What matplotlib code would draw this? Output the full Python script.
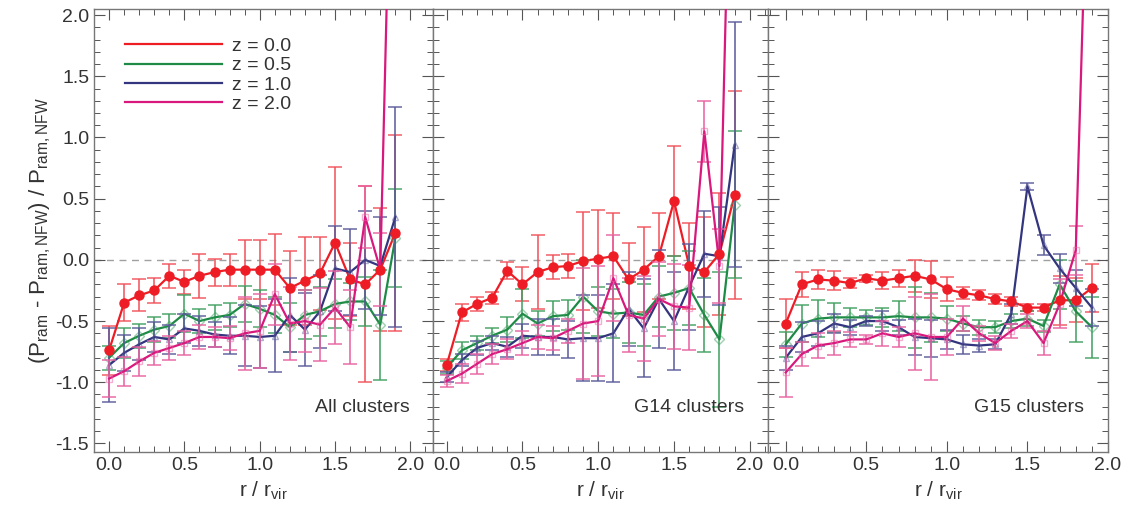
import numpy as np
import matplotlib
matplotlib.use("Agg")
import matplotlib.pyplot as plt
from matplotlib.ticker import MultipleLocator, FormatStrFormatter

plt.rcParams['font.family'] = ['Liberation Sans', 'DejaVu Sans']
plt.rcParams['mathtext.fontset'] = 'custom'
plt.rcParams['mathtext.rm'] = 'Liberation Sans'
plt.rcParams['mathtext.it'] = 'Liberation Sans:italic'

# radial bins r / r_vir
r = np.round(np.arange(20) * 0.1, 1)

labels = ["z = 0.0", "z = 0.5", "z = 1.0", "z = 2.0"]
panel_names = ["All clusters", "G14 clusters", "G15 clusters"]

#-------------------All clusters-------------------#
all_z00 = [-0.74, -0.35, -0.29, -0.25, -0.13, -0.18, -0.13, -0.10, -0.08, -0.08,
           -0.08, -0.08, -0.23, -0.17, -0.11, 0.14, -0.16, -0.20, -0.08, 0.22]
all_z05 = [-0.80, -0.68, -0.62, -0.57, -0.54, -0.44, -0.50, -0.47, -0.45, -0.36,
           -0.40, -0.45, -0.55, -0.45, -0.42, -0.36, -0.34, -0.34, -0.53, 0.18]
all_z10 = [-0.86, -0.76, -0.69, -0.63, -0.65, -0.56, -0.58, -0.61, -0.62, -0.62,
           -0.63, -0.62, -0.45, -0.57, -0.42, -0.07, -0.10, 0.00, -0.05, 0.35]
all_z20 = [-0.97, -0.91, -0.83, -0.76, -0.72, -0.68, -0.63, -0.63, -0.64, -0.60,
           -0.58, -0.28, -0.52, -0.50, -0.53, -0.39, -0.55, 0.35, -0.08, 5.0]
all_e00 = [0.20, 0.15, 0.13, 0.10, 0.10, 0.10, 0.18, 0.11, 0.13, 0.24,
           0.24, 0.29, 0.30, 0.36, 0.30, 0.62, 0.30, 0.80, 0.50, 0.80]
all_e05 = [0.10, 0.12, 0.10, 0.10, 0.10, 0.15, 0.10, 0.10, 0.10, 0.15,
           0.15, 0.15, 0.20, 0.20, 0.20, 0.20, 0.15, 0.20, 0.45, 0.40]
all_e10 = [0.30, 0.15, 0.13, 0.12, 0.12, 0.12, 0.12, 0.10, 0.15, 0.25,
           0.25, 0.30, 0.30, 0.30, 0.30, 0.35, 0.35, 0.40, 0.40, 0.90]
all_e20 = [0.15, 0.12, 0.12, 0.10, 0.10, 0.10, 0.10, 0.08, 0.10, 0.30,
           0.30, 0.25, 0.30, 0.25, 0.30, 0.30, 0.30, 0.25, 0.30, 0.30]

#-------------------G14 clusters-------------------#
g14_z00 = [-0.86, -0.43, -0.36, -0.31, -0.09, -0.20, -0.10, -0.06, -0.05, -0.01,
           0.01, 0.03, -0.16, -0.08, 0.03, 0.48, -0.05, -0.10, 0.05, 0.53]
g14_z05 = [-0.88, -0.74, -0.68, -0.62, -0.57, -0.44, -0.52, -0.46, -0.45, -0.30,
           -0.42, -0.44, -0.43, -0.45, -0.30, -0.27, -0.23, -0.45, -0.65, 0.45]
g14_z10 = [-0.96, -0.82, -0.72, -0.68, -0.71, -0.62, -0.63, -0.63, -0.65, -0.64,
           -0.64, -0.60, -0.40, -0.56, -0.32, -0.50, -0.22, 0.05, 0.03, 0.94]
g14_z20 = [-0.99, -0.93, -0.85, -0.77, -0.73, -0.68, -0.63, -0.64, -0.58, -0.52,
           -0.50, -0.15, -0.45, -0.48, -0.32, -0.38, -0.39, 1.05, -0.05, 5.0]
g14_e00 = [0.05, 0.07, 0.06, 0.05, 0.07, 0.14, 0.30, 0.10, 0.10, 0.40,
           0.40, 0.35, 0.30, 0.35, 0.35, 0.45, 0.35, 0.45, 0.50, 0.85]
g14_e05 = [0.05, 0.07, 0.06, 0.06, 0.10, 0.20, 0.10, 0.12, 0.12, 0.30,
           0.20, 0.20, 0.25, 0.25, 0.25, 0.30, 0.30, 0.30, 0.55, 0.60]
g14_e10 = [0.04, 0.05, 0.06, 0.06, 0.08, 0.10, 0.15, 0.15, 0.15, 0.35,
           0.35, 0.40, 0.30, 0.40, 0.40, 0.40, 0.35, 0.35, 0.40, 1.00]
g14_e20 = [0.05, 0.08, 0.08, 0.08, 0.08, 0.10, 0.10, 0.10, 0.10, 0.45,
           0.45, 0.35, 0.30, 0.35, 0.30, 0.35, 0.35, 0.25, 0.30, 0.50]

#-------------------G15 clusters-------------------#
g15_z00 = [-0.52, -0.20, -0.16, -0.17, -0.19, -0.15, -0.17, -0.15, -0.13, -0.16,
           -0.24, -0.27, -0.29, -0.32, -0.34, -0.39, -0.39, -0.33, -0.33, -0.23]
g15_z05 = [-0.69, -0.52, -0.48, -0.47, -0.47, -0.47, -0.47, -0.46, -0.47, -0.47,
           -0.48, -0.52, -0.55, -0.55, -0.50, -0.48, -0.54, -0.20, -0.42, -0.55]
g15_z10 = [-0.80, -0.63, -0.60, -0.52, -0.55, -0.50, -0.50, -0.55, -0.63, -0.64,
           -0.65, -0.69, -0.70, -0.69, -0.44, 0.60, 0.12, -0.07, -0.23, -0.39]
g15_z20 = [-0.92, -0.77, -0.70, -0.68, -0.65, -0.65, -0.60, -0.63, -0.60, -0.63,
           -0.63, -0.48, -0.60, -0.68, -0.58, -0.50, -0.68, -0.36, 0.08, 4.5]
g15_e00 = [0.20, 0.10, 0.08, 0.08, 0.04, 0.03, 0.07, 0.07, 0.13, 0.15,
           0.10, 0.05, 0.04, 0.04, 0.04, 0.03, 0.03, 0.20, 0.18, 0.20]
g15_e05 = [0.10, 0.15, 0.15, 0.12, 0.08, 0.06, 0.08, 0.12, 0.25, 0.20,
           0.10, 0.06, 0.06, 0.05, 0.06, 0.06, 0.05, 0.20, 0.25, 0.25]
g15_e10 = [0.10, 0.12, 0.10, 0.08, 0.06, 0.04, 0.08, 0.06, 0.15, 0.15,
           0.08, 0.08, 0.05, 0.04, 0.08, 0.03, 0.08, 0.12, 0.15, 0.15]
g15_e20 = [0.20, 0.10, 0.10, 0.10, 0.06, 0.04, 0.10, 0.08, 0.30, 0.35,
           0.15, 0.10, 0.06, 0.06, 0.06, 0.06, 0.10, 0.20, 0.20, 0.30]

panels = [
    ([all_z00, all_z05, all_z10, all_z20], [all_e00, all_e05, all_e10, all_e20]),
    ([g14_z00, g14_z05, g14_z10, g14_z20], [g14_e00, g14_e05, g14_e10, g14_e20]),
    ([g15_z00, g15_z05, g15_z10, g15_z20], [g15_e00, g15_e05, g15_e10, g15_e20]),
]

colors = ["#ee1c25", "#1d8a46", "#34357f", "#d8187c"]
err_colors = ["#f0505a", "#3fa060", "#5a5a9a", "#e860a0"]
markers = ["o", "D", "^", "s"]
xlims = [(-0.1, 2.15), (-0.09, 2.12), (-0.11, 2.0)]

fig = plt.figure(figsize=(11.34, 5.14), dpi=100)
left_edges = [94, 433, 768]
right_edges = [433, 768, 1108]
axes = []
for k in range(3):
    x0 = left_edges[k] / 1134
    w = (right_edges[k] - left_edges[k]) / 1134
    axes.append(fig.add_axes([x0, 1 - 452 / 514, w, (452 - 9) / 514]))

for k, ax in enumerate(axes):
    vals, errs = panels[k]
    ax.axhline(0.0, color="#a0a0a0", ls=(0, (5, 4)), lw=1.0, zorder=1)
    for i in range(4):
        ax.errorbar(r, vals[i], yerr=errs[i], color=err_colors[i], ecolor=err_colors[i],
                    elinewidth=1.3, capsize=5, capthick=1.2, lw=0, alpha=0.85, zorder=2 + i)
        ax.plot(r, vals[i], color=colors[i], lw=1.6, zorder=3 + i, label=labels[i])
        if i == 0:
            ax.plot(r, vals[i], ls="none", marker="o", ms=6.5, color=colors[i], zorder=8)
        else:
            ax.plot(r, vals[i], ls="none", marker=markers[i], ms=5, mfc="none",
                    mec=err_colors[i], alpha=0.5, zorder=3 + i)
    ax.set_xlim(*xlims[k])
    ax.set_ylim(-1.57, 2.05)
    ax.xaxis.set_major_locator(MultipleLocator(0.5))
    ax.xaxis.set_minor_locator(MultipleLocator(0.1))
    ax.yaxis.set_major_locator(MultipleLocator(0.5))
    ax.yaxis.set_minor_locator(MultipleLocator(0.1))
    ax.xaxis.set_major_formatter(FormatStrFormatter("%.1f"))
    ax.yaxis.set_major_formatter(FormatStrFormatter("%.1f"))
    ax.tick_params(which="both", direction="in", top=True, right=True, colors="#555555",
                   labelcolor="#333333", labelsize=14)
    ax.tick_params(which="major", length=8, width=0.8)
    ax.tick_params(which="minor", length=4, width=0.7)
    for s in ax.spines.values():
        s.set_color("#777777")
        s.set_linewidth(1.0)
    if k > 0:
        ax.tick_params(labelleft=False)
    ax.set_xlabel(r"r / r$_{\rm vir}$", fontsize=15, color="#333333", labelpad=4)
    ax.text(0.93, 0.10, panel_names[k], transform=ax.transAxes, ha="right", va="center",
            fontsize=14, color="#333333")

axes[0].set_ylabel(r"(P$_{\rm ram}$ - P$_{\rm ram,NFW}$) / P$_{\rm ram,NFW}$",
                   fontsize=16, color="#333333", labelpad=2)
axes[0].legend(loc="upper left", bbox_to_anchor=(0.04, 0.975), frameon=False,
               handlelength=5.0, fontsize=14, labelspacing=0.08, handletextpad=0.5,
               labelcolor="#333333")

fig.savefig("out.png", dpi=100)
